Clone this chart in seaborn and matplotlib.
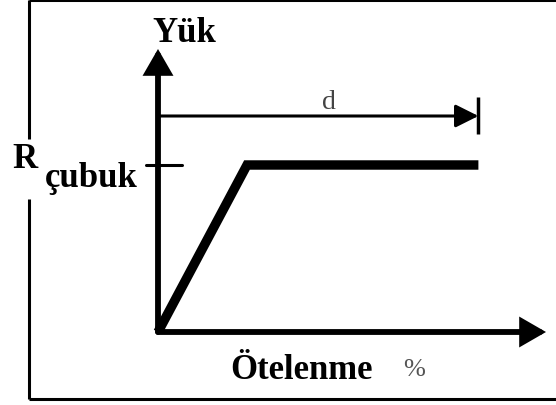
import numpy as np
import pandas as pd
import matplotlib
matplotlib.use("Agg")
import matplotlib.pyplot as plt
from matplotlib.patches import FancyArrowPatch
from matplotlib.lines import Line2D
import seaborn as sns

## Data: idealised load / displacement curve (elastic ramp then plateau)
displacement = [0.0, 1.0, 3.6]   # knee at 1, end of plateau at 3.6
load = [0.0, 1.0, 1.0]           # R_cubuk normalised to 1

y_label = "Yük"
x_label = "Ötelenme"
x_unit = "%"
r_label = "R"
r_sub = "çubuk"
d_label = "d"

sns.set_theme(style="white")
plt.rcParams["font.family"] = ["Liberation Serif", "DejaVu Serif"]

W, H = 556, 406
fig = plt.figure(figsize=(W / 100, H / 100), dpi=100)
fig.patch.set_facecolor("white")

# axes fill the figure; origin of the sketch sits at pixel (158, 333)
X0, Y0 = 158, 333
PX_X, PX_Y = 89, 167   # pixels per data unit
ax = fig.add_axes([0, 0, 1, 1])
ax.set_xlim(-X0 / PX_X, (W - X0) / PX_X)
ax.set_ylim(-(H - Y0) / PX_Y, Y0 / PX_Y)
ax.axis("off")


def dx(px):
    return (px - X0) / PX_X


def dy(py):
    return (Y0 - py) / PX_Y


def fpos(px, py):
    return px / W, 1 - py / H


# outer frame (right side runs off the image, gap on the left for the R label)
for (xa, ya), (xb, yb) in [((29, 1), (560, 1)), ((29, 400), (560, 400)),
                            ((29, 1), (29, 140)), ((29, 200), (29, 400))]:
    fig.add_artist(Line2D([xa / W, xb / W], [1 - ya / H, 1 - yb / H],
                          transform=fig.transFigure, color="black", lw=2.2,
                          solid_capstyle="butt"))

# axes with arrow heads
for tip in [(0, dy(50)), (dx(546), 0)]:
    ax.add_patch(FancyArrowPatch((0, 0), tip,
                                 arrowstyle="-|>,head_length=13,head_width=7.5",
                                 mutation_scale=1, lw=4.2, color="black",
                                 shrinkA=0, shrinkB=0, joinstyle="miter"))

# the curve
sns.lineplot(x=displacement, y=load, ax=ax, color="black", lw=6.8,
             solid_joinstyle="miter", solid_capstyle="butt", sort=False)

# tick for R_cubuk on the load axis
ax.plot([dx(146), dx(182)], [load[-1], load[-1]], color="black", lw=2.2)

# d dimension arrow
d_y = dy(117)
ax.add_patch(FancyArrowPatch((0, d_y), (displacement[-1], d_y),
                             arrowstyle="-|>,head_length=14,head_width=7",
                             mutation_scale=1, lw=2.2, color="black",
                             shrinkA=0, shrinkB=0))
ax.plot([displacement[-1], displacement[-1]], [dy(135), dy(98)],
        color="black", lw=2.5, solid_capstyle="butt")

# labels
bold = dict(fontweight="bold", fontsize=25, color="black")
fig.text(*fpos(152, 42), y_label, ha="left", va="baseline", **bold)
fig.text(*fpos(12, 168), r_label, ha="left", va="baseline", **bold)
fig.text(*fpos(45, 187), r_sub, ha="left", va="baseline", **bold)
fig.text(*fpos(230, 379), x_label, ha="left", va="baseline", **bold)
fig.text(*fpos(329, 109), d_label, ha="center", va="baseline",
         fontsize=20, color="#444444")
fig.text(*fpos(414, 376), x_unit, ha="center", va="baseline",
         fontsize=19, color="#555555")

fig.savefig("out.png", dpi=100, facecolor="white")
